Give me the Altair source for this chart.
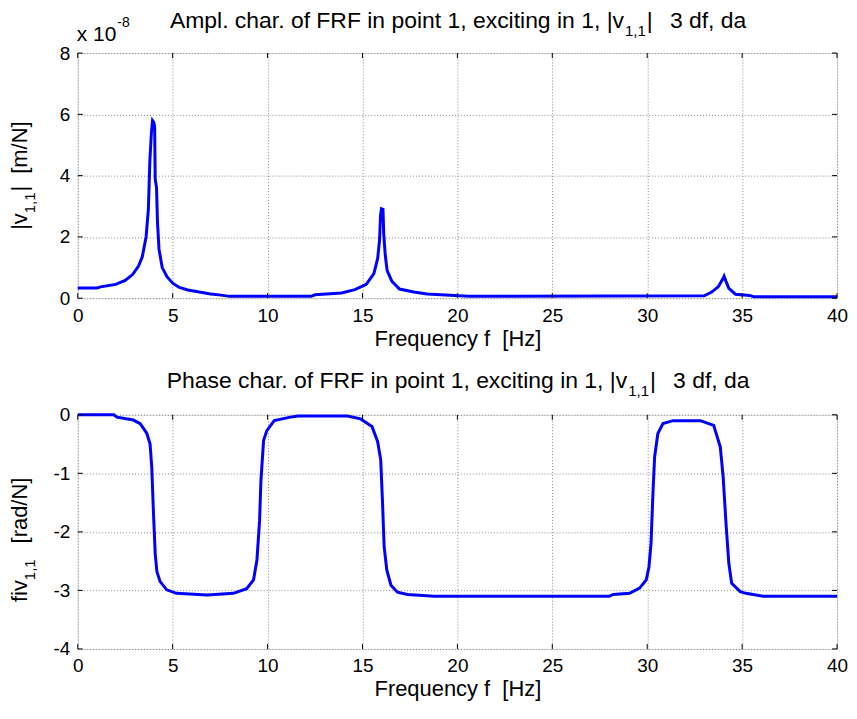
import altair as alt
import pandas as pd

# ---------------- data ----------------
freq_amp = [0, 1.0, 1.2, 2.0, 2.5, 2.9, 3.2, 3.4, 3.6, 3.72, 3.8, 3.88, 3.94, 4.0, 4.05,
            4.08, 4.15, 4.2, 4.28, 4.45, 4.7, 5.0, 5.35, 5.8, 6.4, 7.0, 7.55, 8.0, 12.3,
            12.5, 13.9, 14.6, 15.2, 15.6, 15.8, 15.9, 15.95, 16.0, 16.08, 16.12, 16.2,
            16.3, 16.55, 16.95, 17.7, 18.4, 20.6, 33.0, 33.4, 33.75, 34.0, 34.05, 34.15,
            34.3, 34.65, 35.4, 35.6, 40.0]
# |v_{1,1}| in units of 1e-8 m/N
amp_e8 = [0.33, 0.33, 0.37, 0.45, 0.58, 0.78, 1.05, 1.35, 2.0, 2.9, 4.5, 5.4, 5.8, 5.75, 5.6,
          3.9, 3.6, 2.5, 1.6, 1.0, 0.7, 0.49, 0.35, 0.27, 0.2, 0.14, 0.1, 0.06, 0.06,
          0.11, 0.17, 0.28, 0.45, 0.8, 1.3, 1.9, 2.7, 2.92, 2.9, 2.1, 1.4,
          0.9, 0.55, 0.3, 0.2, 0.14, 0.06, 0.08, 0.2, 0.38, 0.65, 0.72, 0.55,
          0.32, 0.13, 0.09, 0.05, 0.05]

freq_ph = [0, 1.9, 2.06, 2.93, 3.29, 3.64, 3.81, 3.9, 3.99, 4.08, 4.17, 4.34, 4.69, 5.2, 6.8,
           8.2, 8.9, 9.26, 9.44, 9.58, 9.65, 9.79, 9.96, 10.35, 11.2, 11.6, 14.2, 14.9, 15.5,
           15.8, 15.96, 16.05, 16.14, 16.28, 16.5, 16.84, 17.37, 18.77, 28.0, 28.2, 29.07,
           29.6, 29.95, 30.09, 30.2, 30.3, 30.39, 30.56, 30.83, 31.36, 32.8, 33.5, 33.85,
           34.0, 34.16, 34.3, 34.45, 34.9, 35.2, 36.1, 40.0]
phase = [0, 0, -0.04, -0.09, -0.15, -0.32, -0.5, -0.9, -1.69, -2.37, -2.68, -2.85, -2.99, -3.05, -3.08,
         -3.05, -2.97, -2.82, -2.48, -1.8, -1.12, -0.44, -0.27, -0.1, -0.04, -0.02, -0.02, -0.07, -0.2,
         -0.46, -0.77, -1.45, -2.25, -2.65, -2.91, -3.03, -3.07, -3.1, -3.1, -3.07, -3.05,
         -2.96, -2.82, -2.6, -2.2, -1.35, -0.72, -0.32, -0.15, -0.1, -0.1, -0.18, -0.55,
         -1.06, -1.9, -2.54, -2.88, -3.02, -3.05, -3.1, -3.1]

x_ticks = [0, 5, 10, 15, 20, 25, 30, 35, 40]
amp_ticks = [0, 2, 4, 6, 8]
phase_ticks = [-4, -3, -2, -1, 0]

title_amp = "Ampl. char. of FRF in point 1, exciting in 1, |v"
title_ph = "Phase char. of FRF in point 1, exciting in 1, |v"
sub_txt = "1,1"
title_tail = "3 df, da"
xlabel = "Frequency f\u00a0 [Hz]"

# ---------------- layout / style ----------------
FONT = "Liberation Sans"
W = 762
H1 = 246
H2 = 235
FS = 19        # tick label size
FT = 23        # title size
FL = 22        # axis label size
FS_SUB = 15    # sub/superscript size
BLUE = "#0000FF"
LABEL_EXPR = "datum.value < 0 ? '-' + abs(datum.value) : '' + datum.value"

CW = {' ': .278, 'A': .667, 'm': .833, 'p': .556, 'l': .222, '.': .278, 'c': .5, 'h': .556,
      'a': .556, 'r': .333, 'o': .556, 'f': .278, 'F': .611, 'R': .722, 'i': .222, 'n': .556,
      't': .278, '1': .556, ',': .278, 'e': .556, 'x': .5, 'g': .556, '|': .26, 'v': .5,
      '3': .556, 'd': .556, 'P': .667, 's': .5, '[': .278, ']': .278, 'N': .722, '/': .278}


def tw(s, size):
    return sum(CW.get(ch, .556) for ch in s) * size


one = pd.DataFrame({"k": [0]})


def txt(s, x, y, size, align="left", angle=0):
    return alt.Chart(one).mark_text(
        align=align, baseline="alphabetic", font=FONT, fontSize=size,
        color="black", angle=angle
    ).encode(x=alt.value(x), y=alt.value(y), text=alt.value(s))


def title_layers(main, y_base):
    w_main = tw(main, FT)
    w_sub = tw(sub_txt, FS_SUB)
    w_bar = tw("|", FT)
    gap = tw("   ", FT)
    w_tail = tw(title_tail, FT)
    total = w_main + w_sub + w_bar + gap + w_tail
    x0 = W / 2 - total / 2
    xs = x0 + w_main
    return [
        txt(main, xs, y_base, FT, align="right"),
        txt(sub_txt, xs + 1, y_base + 8, FS_SUB),
        txt("|", xs + w_sub + 2, y_base, FT),
        txt(title_tail, xs + w_sub + w_bar + gap, y_base, FT),
    ]


def ylabel_layers(parts, ycenter, xb):
    total = sum(tw(p[0], p[1]) + p[3] for p in parts)
    y = ycenter + total / 2
    out = []
    for s, size, is_sub, gap in parts:
        y -= gap
        out.append(txt(s, xb + (8 if is_sub else 0), y, size, angle=270))
        y -= tw(s, size)
    return out


def xaxis():
    return alt.Axis(values=x_ticks, format="d", grid=True, gridColor="#8a8a8a",
                    gridDash=[1, 2], gridWidth=1, ticks=False, domain=False,
                    labelFont=FONT, labelFontSize=FS, labelColor="black", labelPadding=8,
                    labelFlush=False, title=xlabel, titleFont=FONT, titleFontSize=FL,
                    titleFontWeight="normal", titleColor="black", titlePadding=3)


def yaxis(vals):
    return alt.Axis(values=vals, labelExpr=LABEL_EXPR, grid=True, gridColor="#8a8a8a",
                    gridDash=[1, 2], gridWidth=1, ticks=False, domain=False,
                    labelFont=FONT, labelFontSize=FS, labelColor="black", labelPadding=8,
                    labelFlush=False, title=None)


def tick_rules(H, yvals, yfield_scale):
    xt = pd.DataFrame({"f": x_ticks})
    yt = pd.DataFrame({"v": yvals})
    xs = alt.Scale(domain=[0, 40], nice=False, zero=False)
    common = dict(color="black", strokeWidth=1)
    return [
        alt.Chart(xt).mark_rule(**common).encode(
            x=alt.X("f:Q", scale=xs), y=alt.value(H), y2=alt.value(H - 5)),
        alt.Chart(xt).mark_rule(**common).encode(
            x=alt.X("f:Q", scale=xs), y=alt.value(0), y2=alt.value(5)),
        alt.Chart(yt).mark_rule(**common).encode(
            y=alt.Y("v:Q", scale=yfield_scale), x=alt.value(0), x2=alt.value(5)),
        alt.Chart(yt).mark_rule(**common).encode(
            y=alt.Y("v:Q", scale=yfield_scale), x=alt.value(W - 5), x2=alt.value(W)),
    ]


xscale = alt.Scale(domain=[0, 40], nice=False, zero=False)
amp_scale = alt.Scale(domain=[0, 8], nice=False, zero=False)
ph_scale = alt.Scale(domain=[-4, 0], nice=False, zero=False)

df_amp = pd.DataFrame({"f": freq_amp, "v": amp_e8})
df_ph = pd.DataFrame({"f": freq_ph, "v": phase})

amp_line = alt.Chart(df_amp).mark_line(color=BLUE, strokeWidth=3, interpolate="linear").encode(
    x=alt.X("f:Q", scale=xscale, axis=xaxis()),
    y=alt.Y("v:Q", scale=amp_scale, axis=yaxis(amp_ticks)),
)
ph_line = alt.Chart(df_ph).mark_line(color=BLUE, strokeWidth=3, interpolate="linear").encode(
    x=alt.X("f:Q", scale=xscale, axis=xaxis()),
    y=alt.Y("v:Q", scale=ph_scale, axis=yaxis(phase_ticks)),
)

top_layers = [amp_line] + tick_rules(H1, amp_ticks, amp_scale) + title_layers(title_amp, -25) + [
    txt("x 10", -1, -12, 21),
    txt("-8", -1 + tw("x 10", 21) + 1, -26, 14),
] + ylabel_layers([("|v", FL, False, 0), ("1,1", FS_SUB, True, 0),
                   ("|", FL, False, 1), ("[m/N]", FL, False, 12)], H1 / 2, -51)

bot_layers = [ph_line] + tick_rules(H2, phase_ticks, ph_scale) + title_layers(title_ph, -27) + \
    ylabel_layers([("fiv", FL, False, 0), ("1,1", FS_SUB, True, 0),
                   ("[rad/N]", FL, False, 16)], H2 / 2 + 8, -51)

top = alt.layer(*top_layers).properties(width=W, height=H1)
bot = alt.layer(*bot_layers).properties(width=W, height=H2)

chart = alt.vconcat(top, bot, spacing=117, bounds="flush").properties(
    padding={"left": 0, "top": 0, "right": 0, "bottom": 0},
).configure_view(stroke="black", strokeWidth=1).configure(background="white")

chart.save("out.html", embed_options={"renderer": "svg", "actions": False})
